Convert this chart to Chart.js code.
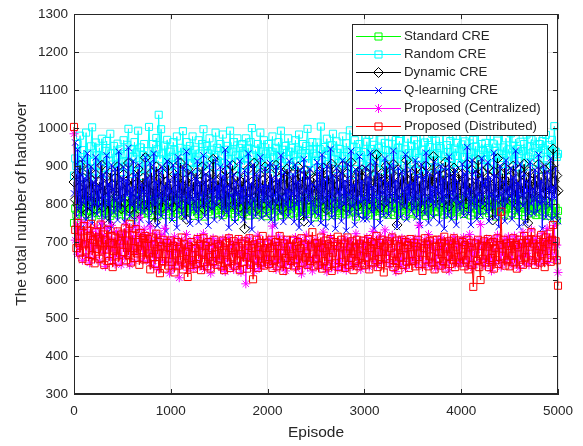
<!DOCTYPE html>
<html>
<head>
<meta charset="utf-8">
<script src="https://cdn.jsdelivr.net/npm/chart.js@4/dist/chart.umd.min.js"></script>
<style>html,body{margin:0;padding:0;background:#fff;}canvas{display:block;}</style>
</head>
<body>
<canvas id="c" width="583" height="446"></canvas>
<script>
// Episodes: one sample every 12.5 episodes, 0..5000
const episodeStep = 12.5;
const episodes = Array.from({length: 401}, (_, i) => i * episodeStep);

const xTicks = [0, 1000, 2000, 3000, 4000, 5000];
const yTicks = [300, 400, 500, 600, 700, 800, 900, 1000, 1100, 1200, 1300];

const seriesNames = ['Standard CRE', 'Random CRE', 'Dynamic CRE', 'Q-learning CRE', 'Proposed (Centralized)', 'Proposed (Distributed)'];

const standardCRE = [
750,788,772,801,779,795,812,768,790,805,783,774,810,796,781,767,803,792,815,777,
786,799,771,808,793,782,820,775,797,811,769,788,802,784,776,814,791,780,806,773,
798,785,809,770,794,817,780,801,789,765,812,796,778,804,787,819,774,800,791,783,
810,776,795,806,771,789,813,797,782,768,805,790,818,779,799,787,772,808,793,781,
803,792,766,811,784,798,775,816,789,803,770,795,809,782,778,814,796,786,801,769,
792,808,781,774,812,797,789,805,767,793,816,780,800,788,773,810,795,783,807,776,
785,800,815,771,796,784,809,778,792,819,775,803,790,766,812,797,781,806,789,774,
807,779,794,811,786,770,802,795,817,780,791,772,808,799,784,813,777,796,803,768,
794,782,810,775,801,789,767,814,797,783,806,771,792,818,786,779,804,795,773,811,
788,803,776,797,812,781,795,769,808,790,779,816,785,800,774,793,810,783,798,765,
801,787,772,813,794,779,806,791,768,810,797,784,820,776,799,788,771,807,792,782,
776,809,795,783,816,773,800,789,806,778,793,812,781,767,804,796,785,815,774,798,
812,784,799,770,805,791,778,817,787,801,769,794,809,782,797,776,811,790,803,772,
789,806,780,796,814,771,803,788,775,810,795,783,799,818,768,791,805,779,808,793,
775,798,812,786,770,804,792,779,815,797,784,769,806,789,801,773,813,794,781,809,
800,779,791,808,783,796,772,811,790,805,776,799,787,814,768,802,793,780,816,785,
796,810,774,789,803,781,818,792,770,807,795,778,812,786,799,771,806,791,784,813,
783,797,809,776,792,815,780,801,788,767,811,794,779,805,798,773,817,786,802,770,
808,789,777,812,795,784,800,771,814,790,779,806,793,768,809,797,782,816,775,799,
787,801,771,810,794,780,806,772,797,785,808,769,796,781,803,776,799,763,790,757,
782];

const randomCRE = [
875,920,900,958,890,980,915,868,942,905,988,897,930,872,952,1002,912,886,962,928,
902,948,882,972,925,895,940,966,878,914,985,933,904,953,869,923,959,898,944,910,
884,968,932,899,956,998,908,879,944,924,963,887,936,993,903,949,874,929,958,917,
893,939,1003,919,883,958,929,904,974,944,1035,918,997,933,879,954,909,969,899,938,
923,888,963,943,903,978,913,873,948,928,992,898,938,963,883,923,953,908,978,893,
943,908,878,968,933,898,958,997,918,888,953,933,973,903,943,878,923,988,948,913,
898,958,928,983,908,943,873,953,918,993,903,938,963,888,928,973,913,948,883,958,
933,903,973,918,948,888,963,1000,928,908,943,878,958,923,988,903,938,968,893,933,
913,958,893,938,978,923,903,948,883,963,928,993,908,943,873,953,918,973,938,903,
948,888,928,968,913,943,983,903,933,958,878,923,953,998,908,943,888,963,933,913,
927,962,897,945,1004,915,880,950,930,972,905,940,865,955,985,918,892,965,935,908,
945,910,978,926,889,960,936,901,994,922,877,951,968,911,939,884,958,929,990,904,
937,896,964,919,982,907,945,873,956,931,999,914,948,889,970,926,903,961,942,880,
959,924,891,976,938,912,987,901,949,966,883,930,1008,919,944,895,972,934,906,953,
910,968,935,887,957,921,996,904,943,879,962,928,974,897,950,915,985,931,892,967,
934,899,971,947,913,989,925,882,955,937,903,966,918,980,893,946,927,961,908,1001,
902,957,924,965,889,942,911,978,936,896,969,920,952,884,991,930,905,958,943,916,
961,918,947,893,979,926,959,904,940,883,967,933,912,996,921,949,887,973,915,944,
928,986,906,954,919,971,897,945,932,964,881,939,958,910,983,925,899,952,970,936,
911,947,975,921,890,958,934,966,902,943,982,917,955,895,940,969,928,1005,938,924,
932];

const dynamicCRE = [
858,812,878,798,842,902,788,828,868,812,852,778,892,838,808,862,822,788,878,842,
808,858,828,902,792,848,818,872,838,748,882,828,852,802,868,822,898,812,848,788,
832,878,802,858,822,908,788,842,868,812,772,852,828,892,808,848,832,868,798,922,
838,798,862,822,882,808,848,752,898,832,812,868,842,792,878,818,858,832,902,808,
852,822,792,878,838,812,868,828,908,798,848,822,862,760,892,838,808,872,828,858,
818,882,838,802,858,822,898,788,842,868,812,852,828,878,798,918,832,848,808,862,
842,808,872,828,852,788,888,838,812,862,832,902,798,848,822,872,838,792,858,828,
868,735,848,798,892,832,812,858,838,908,818,852,788,878,842,822,862,802,898,838,
812,858,832,878,798,848,822,902,842,808,868,832,788,882,848,818,892,828,858,802,
848,878,812,862,832,898,818,852,838,872,755,888,828,858,812,878,842,822,868,836,
825,870,805,885,840,810,895,830,860,785,875,845,815,905,835,865,800,880,850,820,
875,835,900,815,850,790,880,840,825,910,805,860,830,870,795,885,845,815,890,830,
840,885,820,860,800,895,835,810,875,845,930,825,855,790,880,840,865,805,900,835,
860,815,880,835,905,820,850,745,890,830,865,810,875,845,800,915,835,860,820,880,
830,870,805,895,840,825,860,790,885,850,815,900,835,870,805,880,845,925,820,855,
870,820,890,840,805,875,830,910,815,860,795,885,845,825,895,830,865,810,880,850,
815,880,840,865,800,905,830,855,820,890,845,810,875,835,915,820,860,800,885,840,
855,825,895,810,870,840,758,885,830,860,920,815,850,835,880,805,895,845,825,870,
835,875,815,900,845,820,865,795,890,830,855,810,905,840,870,750,885,815,860,830,
880,820,860,835,905,815,870,845,830,890,810,875,850,825,900,840,945,860,830,875,
835];

const qlearningCRE = [
828,962,768,943,788,878,738,918,803,868,758,933,813,788,898,748,858,798,923,773,
848,793,908,743,878,818,763,928,798,853,733,903,838,778,893,813,758,938,788,868,
808,898,753,863,823,948,768,843,798,913,738,878,818,788,903,758,853,833,778,923,
793,868,748,908,813,778,933,798,858,743,888,823,768,898,808,848,728,913,788,863,
833,758,903,808,878,738,923,793,853,773,898,818,763,938,803,843,748,883,813,788,
868,778,913,753,858,823,793,928,768,878,808,743,903,833,788,863,758,918,798,848,
813,898,763,873,788,943,778,848,738,908,823,793,878,753,858,828,773,913,803,843,
758,888,818,778,933,798,853,733,903,813,768,878,838,788,923,763,848,808,893,773,
848,793,908,758,868,823,743,898,803,863,778,928,818,753,883,798,838,768,913,788,
828,878,753,903,798,858,738,888,813,773,918,833,763,868,808,893,748,853,798,778,
845,910,770,885,750,930,805,865,740,900,820,785,945,765,875,810,735,895,830,790,
880,755,915,800,860,730,905,825,775,940,795,850,745,890,815,770,925,805,860,760,
815,895,760,870,805,935,780,845,735,910,820,790,880,750,865,830,770,920,800,855,
770,900,825,785,940,805,860,740,895,815,765,885,835,795,930,760,850,810,890,780,
855,790,915,765,875,820,745,905,800,870,775,935,815,750,880,805,845,765,910,795,
835,885,750,900,805,865,735,895,820,770,925,830,760,875,810,890,745,860,805,785,
800,905,770,880,820,950,775,840,745,915,810,790,885,760,865,825,770,920,800,850,
865,780,910,755,870,825,790,935,765,875,815,740,900,830,785,860,755,915,805,845,
820,895,760,870,795,940,780,855,740,905,825,795,880,750,860,835,775,910,800,840,
775,890,815,780,930,800,860,735,900,810,765,885,840,795,920,760,845,815,895,770,
755];

const proposedCentralized = [
985,705,742,668,722,684,755,652,730,700,662,748,690,645,728,676,715,660,738,688,
722,650,706,752,672,718,636,735,684,710,655,744,678,702,642,728,692,662,716,640,
700,724,658,748,676,708,640,732,682,714,650,742,670,698,765,684,720,652,734,676,
690,716,648,740,672,700,636,724,660,708,628,690,720,650,698,736,646,680,706,618,
668,700,632,714,676,648,694,606,672,706,640,688,656,720,626,682,702,644,674,630,
690,650,712,668,636,700,660,722,628,684,706,644,692,618,676,710,638,688,654,702,
656,696,632,708,670,622,690,652,712,640,684,700,628,668,694,642,706,672,620,688,
664,704,590,684,654,710,636,694,668,624,700,646,718,630,680,652,702,638,690,660,
658,708,640,690,742,648,698,628,674,716,650,694,634,680,706,624,668,700,644,686,
642,692,660,712,630,680,650,706,616,674,696,642,718,634,682,700,652,624,690,662,
706,646,690,634,700,668,726,640,682,622,696,650,712,632,676,702,644,688,628,680,
650,702,634,684,710,626,674,696,644,706,636,690,660,722,638,694,668,628,702,676,
694,644,712,664,634,700,676,728,648,694,638,706,668,716,646,698,674,732,650,704,
668,636,694,718,648,680,622,704,658,690,640,710,654,698,630,676,706,644,692,660,
700,652,708,640,686,744,656,694,634,674,706,646,692,720,638,684,702,650,680,630,
666,706,644,690,710,634,680,698,650,704,624,672,696,656,714,640,686,706,646,694,
644,692,712,658,700,636,684,720,650,694,632,706,672,644,702,682,746,654,696,638,
690,708,648,694,660,624,706,678,644,700,718,652,686,634,696,668,708,646,692,714,
656,700,638,692,716,650,684,706,632,690,660,726,644,700,670,710,640,694,732,658,
702,648,710,676,640,696,664,722,650,704,680,736,646,694,712,668,706,744,654,692,
620];

const proposedDistributed = [
1003,732,684,750,698,672,728,656,742,694,678,730,650,716,748,666,706,644,726,682,
712,656,746,678,720,640,706,680,732,650,698,716,634,676,712,662,728,648,696,704,
722,674,736,652,704,666,748,646,718,684,658,734,670,700,640,724,678,710,654,716,
656,708,670,628,712,660,694,642,722,668,700,618,690,650,706,630,668,698,638,684,
704,648,690,620,670,700,638,686,652,712,628,694,644,674,608,688,640,700,652,630,
684,642,708,656,694,626,672,710,648,690,636,700,660,630,684,650,706,668,640,694,
654,690,636,704,626,672,698,648,710,632,684,660,702,638,688,652,708,626,668,696,
648,702,660,630,690,710,640,684,602,694,654,706,632,668,698,646,716,638,684,654,
696,642,684,706,632,672,652,700,636,690,716,646,670,624,696,658,706,640,688,650,
664,706,636,690,654,700,626,684,710,646,694,660,670,640,706,650,688,726,636,696,
656,698,640,688,712,630,684,650,704,636,694,660,708,624,672,700,644,690,714,634,
686,706,648,696,632,670,712,640,688,658,702,626,686,650,706,636,696,664,644,704,
640,690,660,708,628,684,700,646,694,652,716,634,674,698,642,706,620,688,656,702,
696,644,684,712,634,670,650,704,626,690,660,706,640,684,700,648,692,632,708,668,
650,698,636,688,706,642,672,696,624,684,710,652,694,636,702,662,646,706,628,688,
706,656,690,638,698,650,714,630,686,664,702,642,696,654,710,634,688,660,704,646,
664,700,636,692,652,706,628,686,698,640,582,672,696,650,706,634,600,690,656,702,
646,688,708,634,696,658,700,630,684,652,710,642,692,780,664,706,638,696,652,690,
636,698,664,710,646,692,630,686,706,654,696,640,716,660,698,646,706,688,726,652,
696,640,706,662,690,646,718,668,700,634,712,658,694,722,648,706,745,670,702,652,
585];

const seriesValues = [standardCRE, randomCRE, dynamicCRE, qlearningCRE, proposedCentralized, proposedDistributed];
const seriesColors = ['#00ff00', '#00ffff', '#000000', '#0000ff', '#ff00ff', '#ff0000'];
const seriesMarkers = ['rect', 'rect', 'rectRot', 'crossRot', 'star', 'rect'];
const markerRadius = [5, 5, 5, 4.5, 4.5, 5];

const FONT = "'Liberation Sans', Arial, Helvetica, sans-serif";
const TEXT = '#262626';

const datasets = seriesNames.map((name, i) => ({
  label: name,
  data: episodes.map((e, k) => ({x: e, y: seriesValues[i][k]})),
  borderColor: seriesColors[i],
  backgroundColor: seriesColors[i],
  borderWidth: 1,
  pointStyle: seriesMarkers[i],
  pointRadius: markerRadius[i],
  pointBorderColor: seriesColors[i],
  pointBackgroundColor: 'rgba(0,0,0,0)',
  pointBorderWidth: 1,
  tension: 0,
  clip: false,
  order: seriesNames.length - 1 - i
}));

function drawMarker(ctx, style, x, y, r) {
  ctx.beginPath();
  if (style === 'rect') {
    const s = Math.SQRT1_2 * r;
    ctx.rect(x - s, y - s, 2 * s, 2 * s);
  } else if (style === 'rectRot') {
    ctx.moveTo(x, y - r); ctx.lineTo(x + r, y); ctx.lineTo(x, y + r); ctx.lineTo(x - r, y); ctx.closePath();
  } else if (style === 'crossRot') {
    const s = Math.SQRT1_2 * r;
    ctx.moveTo(x - s, y - s); ctx.lineTo(x + s, y + s);
    ctx.moveTo(x - s, y + s); ctx.lineTo(x + s, y - s);
  } else if (style === 'star') {
    const s = Math.SQRT1_2 * r;
    ctx.moveTo(x - s, y - s); ctx.lineTo(x + s, y + s);
    ctx.moveTo(x - s, y + s); ctx.lineTo(x + s, y - s);
    ctx.moveTo(x, y - r); ctx.lineTo(x, y + r);
    ctx.moveTo(x - r, y); ctx.lineTo(x + r, y);
  }
  ctx.stroke();
}

const framePlugin = {
  id: 'frame',
  afterDatasetsDraw(chart) {
    const {ctx, chartArea: a, scales} = chart;
    const xs = scales.x, ys = scales.y;
    ctx.save();
    ctx.strokeStyle = TEXT;
    ctx.lineWidth = 1;
    ctx.strokeRect(Math.round(a.left) + 0.5, Math.round(a.top) + 0.5, Math.round(a.right - a.left) - 1, Math.round(a.bottom - a.top) - 1);
    const tl = 5;
    ctx.beginPath();
    xTicks.forEach(v => {
      const px = Math.round(xs.getPixelForValue(v)) + 0.5;
      ctx.moveTo(px, a.bottom); ctx.lineTo(px, a.bottom - tl);
      ctx.moveTo(px, a.top); ctx.lineTo(px, a.top + tl);
    });
    yTicks.forEach(v => {
      const py = Math.round(ys.getPixelForValue(v)) + 0.5;
      ctx.moveTo(a.left, py); ctx.lineTo(a.left + tl, py);
      ctx.moveTo(a.right, py); ctx.lineTo(a.right - tl, py);
    });
    ctx.stroke();

    // legend
    const L = 352.5, T = 24.5, W = 195, H = 111;
    ctx.fillStyle = '#ffffff';
    ctx.fillRect(L, T, W, H);
    ctx.strokeStyle = TEXT;
    ctx.strokeRect(L, T, W, H);
    ctx.font = '13.3px ' + FONT;
    ctx.textBaseline = 'middle';
    ctx.textAlign = 'left';
    seriesNames.forEach((name, i) => {
      const yy = 36 + i * 17.9;
      ctx.strokeStyle = seriesColors[i];
      ctx.lineWidth = 1;
      ctx.beginPath();
      ctx.moveTo(356, Math.round(yy) + 0.5); ctx.lineTo(401, Math.round(yy) + 0.5);
      ctx.stroke();
      drawMarker(ctx, seriesMarkers[i], 378.5, Math.round(yy) + 0.5, markerRadius[i]);
      ctx.fillStyle = TEXT;
      ctx.fillText(name, 404, yy + 0.5);
    });
    ctx.restore();
  }
};

Chart.defaults.font.family = FONT;
Chart.defaults.color = TEXT;

new Chart(document.getElementById('c'), {
  type: 'line',
  data: {datasets},
  options: {
    responsive: false,
    animation: false,
    devicePixelRatio: 1,
    events: [],
    layout: {padding: {top: 14, right: 25, left: 0, bottom: 0}},
    plugins: {legend: {display: false}, tooltip: {enabled: false}},
    scales: {
      x: {
        type: 'linear',
        min: 0, max: 5000,
        afterBuildTicks: s => { s.ticks = xTicks.map(v => ({value: v})); },
        afterFit: s => { s.height = 52; },
        grid: {color: '#e6e6e6', drawTicks: false},
        border: {display: true, color: TEXT},
        ticks: {padding: 9, font: {size: 13.5}, color: TEXT, maxRotation: 0, autoSkip: false, callback: v => String(v)},
        title: {display: true, text: 'Episode', font: {size: 15.5}, color: TEXT, padding: {top: 0, bottom: 4}}
      },
      y: {
        type: 'linear',
        min: 300, max: 1300,
        afterBuildTicks: s => { s.ticks = yTicks.map(v => ({value: v})); },
        afterFit: s => { s.width = 74; },
        grid: {color: '#e6e6e6', drawTicks: false},
        border: {display: true, color: TEXT},
        ticks: {padding: 6, font: {size: 13.5}, color: TEXT, autoSkip: false, callback: v => String(v)},
        title: {display: true, text: 'The total number of handover', font: {size: 15.5}, color: TEXT, padding: {top: 12, bottom: 0}}
      }
    }
  },
  plugins: [framePlugin]
});
</script>
</body>
</html>
